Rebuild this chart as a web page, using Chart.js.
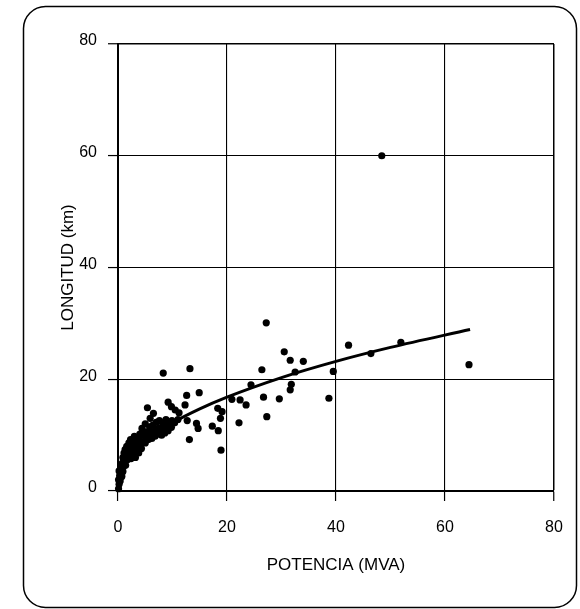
<!DOCTYPE html>
<html>
<head>
<meta charset="utf-8">
<script src="https://cdn.jsdelivr.net/npm/chart.js@4.4.1/dist/chart.umd.min.js"></script>
<style>
    html, body { margin: 0; padding: 0; background: #fff; }
    #wrap { width: 580px; height: 609px; }
</style>
</head>
<body>
<div id="wrap"><canvas id="chart" width="580" height="609"></canvas></div>
<script>
// ---- Data ----------------------------------------------------------------
// measured lines: power (MVA) vs length (km)
const potencia = [
    0.1, 0.2, 0.1, 0.4, 0.3, 0.5, 0.2, 0.7, 0.6, 0.9,
    0.8, 1.0, 0.9, 1.2, 1.1, 1.4, 1.5, 1.3, 1.7, 1.8,
    1.6, 2.0, 2.1, 2.0, 2.4, 2.5, 2.4, 2.3, 2.8, 2.9,
    2.8, 3.0, 3.2, 3.3, 3.4, 3.5, 3.8, 3.9, 4.0, 4.0,
    4.3, 4.5, 4.6, 4.4, 5.0, 5.1, 5.2, 5.0, 5.4, 5.6,
    5.7, 5.8, 5.9, 6.2, 6.3, 6.4, 6.5, 6.8, 6.9, 7.0,
    7.4, 7.5, 7.6, 8.0, 8.1, 8.2, 8.6, 8.7, 8.8, 9.2,
    9.3, 9.2, 9.8, 9.9, 9.8, 10.5, 10.4, 11.0, 11.2,
    8.3, 13.2, 12.6, 14.9, 12.3, 12.7, 14.4, 14.7, 13.1, 18.3,
    19.1, 18.8, 17.3, 18.4, 18.9, 20.9, 22.4, 23.5, 22.2, 24.4,
    26.4, 26.7, 27.3, 27.2, 29.6, 30.5, 31.6, 34.0, 32.5, 31.8,
    31.6, 38.7, 39.5, 42.3, 46.4, 51.9, 64.4, 48.4
];
const longitud = [
    0.4, 1.2, 2.0, 1.8, 2.7, 3.4, 3.6, 2.6, 4.3, 3.5,
    5.0, 4.4, 6.0, 5.4, 6.8, 4.6, 6.2, 7.4, 5.6, 7.0,
    8.0, 6.3, 7.6, 8.6, 5.8, 7.0, 8.2, 9.2, 6.6, 7.8,
    9.0, 9.8, 6.0, 7.2, 8.4, 9.4, 6.8, 8.0, 9.0, 10.2,
    7.6, 8.8, 10.0, 11.2, 8.6, 9.6, 10.6, 12.0, 14.9, 9.2,
    10.4, 11.5, 13.0, 9.4, 10.6, 11.8, 13.9, 9.8, 10.9, 12.3,
    10.2, 11.3, 12.6, 10.0, 11.1, 12.2, 10.4, 11.6, 12.8, 10.8,
    11.9, 15.9, 11.4, 12.6, 15.1, 14.5, 12.2, 12.8, 14.0,
    21.1, 21.9, 17.1, 17.6, 15.4, 12.6, 12.1, 11.2, 9.2, 14.8,
    14.2, 13.0, 11.6, 10.8, 7.3, 16.4, 16.3, 15.4, 12.2, 19.0,
    21.7, 16.8, 13.3, 30.1, 16.5, 24.9, 23.4, 23.2, 21.3, 19.1,
    18.1, 16.6, 21.4, 26.1, 24.6, 26.6, 22.6, 60.0
];

// fitted curve, points
const curvaX = [0.3, 1, 2, 4, 7, 10, 15, 20, 30, 40, 50, 64.6];
const curvaY = [2.4, 4.2, 5.8, 8.0, 10.3, 12.2, 14.7, 16.8, 20.3, 23.2, 25.7, 28.9];

const xTicks = [0, 20, 40, 60, 80];
const yTicks = [0, 20, 40, 60, 80];

// ---- Helpers -------------------------------------------------------------
const pairs = (xs, ys) => xs.map((x, i) => ({ x: x, y: ys[i] }));
const FONT = "'Liberation Sans', Arial, sans-serif";

// white page + rounded frame around the whole figure
const framePlugin = {
    id: "frame",
    beforeDraw(chart) {
        const ctx = chart.ctx;
        ctx.save();
        ctx.fillStyle = "#fff";
        ctx.fillRect(0, 0, chart.width, chart.height);
        ctx.restore();
    },
    afterDraw(chart) {
        const ctx = chart.ctx;
        ctx.save();
        ctx.strokeStyle = "#000";
        ctx.lineWidth = 1.5;
        ctx.beginPath();
        ctx.roundRect(23.5, 6.5, 553, 601, 22);
        ctx.stroke();
        ctx.restore();
    },
};

const gridOpts = {
    color: "#000",
    lineWidth: (c) => (c.tick && c.tick.value === 80 ? 1.5 : 1.1),
    tickColor: "#000",
    tickLength: 10,
    tickWidth: 1.2,
};

new Chart(document.getElementById("chart"), {
    type: "scatter",
    data: {
        datasets: [
            {
                label: "curva",
                type: "line",
                data: pairs(curvaX, curvaY),
                borderColor: "#000",
                borderWidth: 3,
                pointRadius: 0,
                cubicInterpolationMode: "monotone",
                fill: false,
                clip: false,
            },
            {
                label: "datos",
                data: pairs(potencia, longitud),
                backgroundColor: "#000",
                borderWidth: 0,
                pointRadius: 3.6,
                clip: false,
            },
        ],
    },
    options: {
        responsive: false,
        animation: false,
        devicePixelRatio: 1,
        layout: { padding: { left: 0, top: 44, right: 26, bottom: 0 } },
        plugins: { legend: { display: false }, tooltip: { enabled: false } },
        scales: {
            x: {
                type: "linear",
                min: 0,
                max: 80,
                afterBuildTicks: (s) => { s.ticks = xTicks.map((v) => ({ value: v })); },
                afterFit: (s) => { s.height = 118; },
                grid: gridOpts,
                border: { display: true, color: "#000", width: 2 },
                ticks: { color: "#000", padding: 17, font: { family: FONT, size: 16 } },
                title: {
                    display: true,
                    text: "POTENCIA (MVA)",
                    color: "#000",
                    font: { family: FONT, size: 17 },
                    padding: { top: 0, bottom: 33 },
                },
            },
            y: {
                type: "linear",
                min: 0,
                max: 80,
                afterBuildTicks: (s) => { s.ticks = yTicks.map((v) => ({ value: v })); },
                afterFit: (s) => { s.width = 118; },
                grid: gridOpts,
                border: { display: true, color: "#000", width: 2 },
                ticks: { color: "#000", padding: 11, labelOffset: -3, font: { family: FONT, size: 16 } },
                title: {
                    display: true,
                    text: "LONGITUD (km)",
                    color: "#000",
                    font: { family: FONT, size: 17 },
                    padding: { top: 58, bottom: 0 },
                },
            },
        },
    },
    plugins: [framePlugin],
});
</script>
</body>
</html>
